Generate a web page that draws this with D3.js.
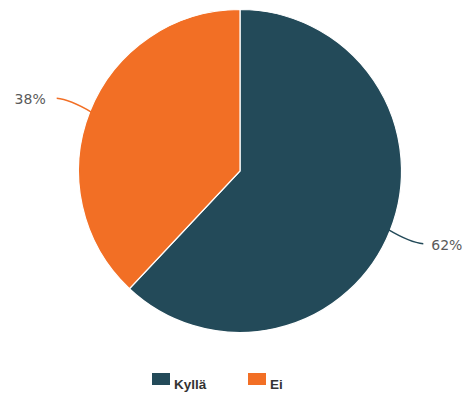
<!DOCTYPE html>
<html><head><meta charset="utf-8">
<script src="https://cdn.jsdelivr.net/npm/d3@7"></script>
<style>body{margin:0;background:#fff}svg{display:block}</style>
</head><body>
<svg id="c" width="463" height="394"></svg>
<script>
const categories = ["Kyllä", "Ei"];
const values = [62, 38];
const labels = ["62%", "38%"];
const colors = ["#234a59", "#f26f25"];

const svg = d3.select("#c");
const cx = 240, cy = 171, r = 161.5;
const g = svg.append("g").attr("transform", `translate(${cx},${cy})`);
const pie = d3.pie().sort(null).value(d => d)(values);
const arc = d3.arc().innerRadius(0).outerRadius(r);
g.selectAll("path.s").data(pie).join("path").attr("class","s")
  .attr("d", arc).attr("fill", (d,i)=>colors[i]).attr("stroke","#fff").attr("stroke-width",1.2);

pie.forEach((d,i) => {
  const a = (d.startAngle + d.endAngle)/2;
  const sx = Math.sin(a), sy = -Math.cos(a);
  const right = sx > 0, s = right ? 1 : -1;
  const p0 = [sx*(r-2), sy*(r-2)];
  const p2 = [p0[0] + s*35, p0[1] + s*14];
  const p1 = [p0[0] + s*22, p2[1] - s*1];
  g.append("path")
    .attr("d", `M${p0[0]},${p0[1]} Q${p1[0]},${p1[1]} ${p2[0]},${p2[1]}`)
    .attr("fill","none").attr("stroke", colors[i]).attr("stroke-width",1.4);
  g.append("text").attr("x", p2[0] + (right ? 8 : -11)).attr("y", p2[1] + (right ? 6 : 6))
    .attr("text-anchor", right ? "start" : "end")
    .attr("font-family","DejaVu Sans, sans-serif").attr("font-size",14).attr("fill","#5a5a5a")
    .text(labels[i]);
});

const lg = svg.append("g");
const lx = [152, 248];
categories.forEach((c,i) => {
  lg.append("rect").attr("x", lx[i]).attr("y", 373).attr("width", 18).attr("height", 12).attr("fill", colors[i]);
  lg.append("text").attr("x", lx[i]+22).attr("y", 389)
    .attr("font-family","Liberation Sans, Arial, sans-serif").attr("font-weight","bold")
    .attr("font-size",13.5).attr("fill","#333").text(c);
});
</script>
</body></html>
